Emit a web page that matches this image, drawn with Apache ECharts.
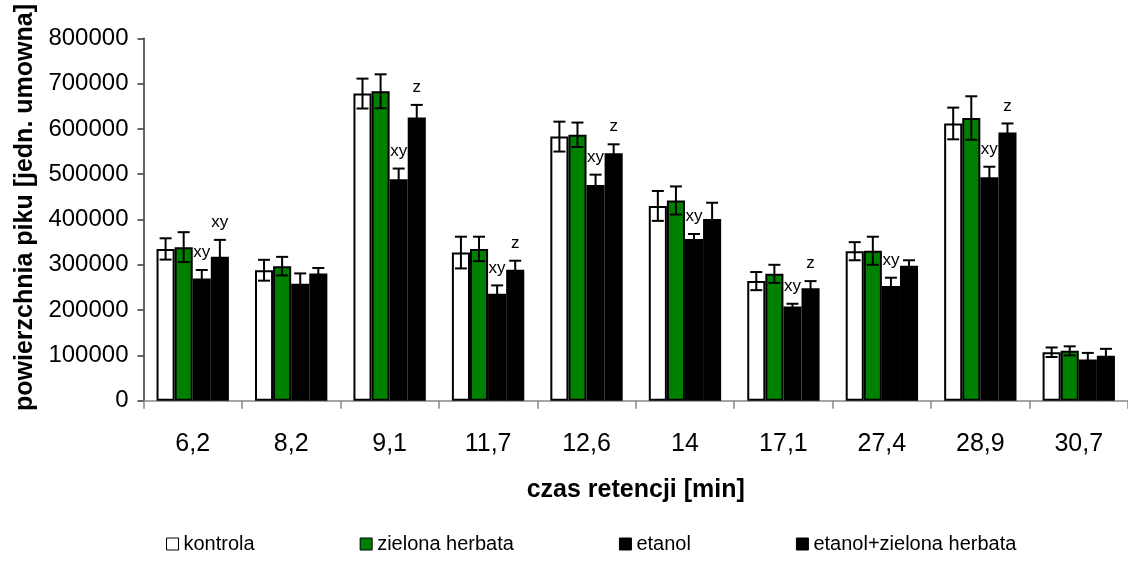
<!DOCTYPE html>
<html>
<head>
<meta charset="utf-8">
<script src="https://cdn.jsdelivr.net/npm/echarts@6/dist/echarts.min.js"></script>
<style>
html,body{margin:0;padding:0;background:#fff;}
#chart{width:1128px;height:569px;}
</style>
</head>
<body>
<div id="chart"></div>
<script>
const categories = ['6,2','8,2','9,1','11,7','12,6','14','17,1','27,4','28,9','30,7'];
const seriesNames = ['kontrola','zielona herbata','etanol','etanol+zielona herbata'];
const kontrola      = [335000, 288000, 678000, 327000, 583000, 430000, 264000, 330000, 612000, 107000];
const kontrolaErr   = [23500, 23000, 33000, 35000, 33000, 33000, 20000, 20000, 35000, 10500];
const zielona       = [339000, 297000, 683000, 335000, 587000, 442000, 280000, 331000, 624000, 110000];
const zielonaErr    = [33000, 20500, 37500, 27000, 27000, 31000, 20000, 31000, 48000, 10000];
const etanol        = [270000, 258000, 489000, 236000, 476000, 357000, 208000, 253000, 493000, 91000];
const etanolErr     = [18500, 23000, 23500, 18500, 23000, 11000, 6000, 18500, 23500, 14500];
const etanolZh      = [318000, 281000, 625000, 289000, 546000, 401000, 248000, 298000, 592000, 99000];
const etanolZhErr   = [37000, 12000, 28000, 20000, 20000, 36000, 16000, 12000, 20000, 15500];
const kontrolaMarks = ['','','','','','','','','',''];
const zielonaMarks  = ['','','','','','','','','',''];
const etanolMarks   = ['xy','','xy','xy','xy','xy','xy','xy','xy',''];
const etanolZhMarks = ['xy','','z','z','z','','z','','z',''];
const yTicks = [0,100000,200000,300000,400000,500000,600000,700000,800000];

const FONT = "'Liberation Sans', Arial, sans-serif";
const GAP = 0.265;
const colors = ['#ffffff','#008000','#000000','#000000'];
const values = [kontrola, zielona, etanol, etanolZh];
const errs = [kontrolaErr, zielonaErr, etanolErr, etanolZhErr];
const marks = [kontrolaMarks, zielonaMarks, etanolMarks, etanolZhMarks];

const errItems = [];
const errMarks = [];
for (let s = 0; s < 4; s++) {
  for (let c = 0; c < categories.length; c++) {
    errItems.push([c, s, values[s][c], errs[s][c]]);
    errMarks.push(marks[s][c]);
  }
}

const barSeries = seriesNames.map((name, s) => ({
  name: name,
  type: 'bar',
  data: values[s],
  barGap: '0%',
  barCategoryGap: (GAP*100) + '%',
  itemStyle: { color: colors[s], borderColor: '#000', borderWidth: 2 },
  emphasis: { disabled: true },
  animation: false
}));

const errSeries = {
  type: 'custom',
  z: 10,
  silent: true,
  animation: false,
  data: errItems,
  encode: { x: 0, y: 2 },
  renderItem: function (params, api) {
    const c = api.value(0), s = api.value(1), v = api.value(2), e = api.value(3);
    const catW = api.size([1, 0])[0];
    const barW = catW * (1 - GAP) / 4;
    const cx = api.coord([c, 0])[0] + (s - 1.5) * barW;
    const yTop = api.coord([c, v + e])[1];
    const yBot = api.coord([c, v - e])[1];
    const hw = 6;
    const st = { stroke: '#000', lineWidth: 2 };
    const children = [
      { type: 'line', shape: { x1: cx, y1: yTop, x2: cx, y2: yBot }, style: st },
      { type: 'line', shape: { x1: cx - hw, y1: yTop, x2: cx + hw, y2: yTop }, style: st },
      { type: 'line', shape: { x1: cx - hw, y1: yBot, x2: cx + hw, y2: yBot }, style: st }
    ];
    const m = errMarks[params.dataIndex];
    if (m) {
      children.push({
        type: 'text',
        style: { text: m, x: cx, y: yTop - 9, align: 'center', verticalAlign: 'bottom',
                 font: '17px ' + FONT, fill: '#000' }
      });
    }
    return { type: 'group', children: children };
  }
};

const chart = echarts.init(document.getElementById('chart'), null, { renderer: 'canvas' });
chart.setOption({
  backgroundColor: '#fff',
  animation: false,
  textStyle: { fontFamily: FONT },
  grid: { left: 143.5, right: -12.7, top: 38.3, bottom: 168.3, containLabel: false },
  legend: {
    data: seriesNames,
    left: 161,
    top: 529,
    itemWidth: 12,
    itemHeight: 12,
    itemGap: 105,
    icon: 'rect',
    itemStyle: { borderColor: '#000', borderWidth: 1 },
    textStyle: { fontSize: 20, color: '#000', fontFamily: FONT }
  },
  xAxis: {
    type: 'category',
    data: categories,
    name: 'czas retencji [min]',
    nameLocation: 'middle',
    nameGap: 77,
    nameTextStyle: { fontSize: 25, fontWeight: 'bold', color: '#000', fontFamily: FONT },
    axisLine: { lineStyle: { color: '#888', width: 1.5 } },
    axisTick: { show: true, length: 8, lineStyle: { color: '#888', width: 1.5 } },
    axisLabel: { margin: 31, fontSize: 25, color: '#000', fontFamily: FONT },
    splitLine: { show: false }
  },
  yAxis: {
    type: 'value',
    min: 0,
    max: 800000,
    interval: 100000,
    name: 'powierzchnia piku [jedn. umowna]',
    nameLocation: 'middle',
    nameGap: 104,
    nameTextStyle: { fontSize: 25, fontWeight: 'bold', color: '#000', fontFamily: FONT,
                     padding: [0, 0, 0, 24] },
    axisLine: { show: true, lineStyle: { color: '#333', width: 1.5 } },
    axisTick: { show: true, length: 6, lineStyle: { color: '#333', width: 1.5 } },
    axisLabel: { margin: 15, fontSize: 24, color: '#000', fontFamily: FONT,
                 formatter: function (v) { return yTicks.indexOf(v) >= 0 ? String(v) : ''; } },
    splitLine: { show: false }
  },
  series: barSeries.concat([errSeries])
});
</script>
</body>
</html>
